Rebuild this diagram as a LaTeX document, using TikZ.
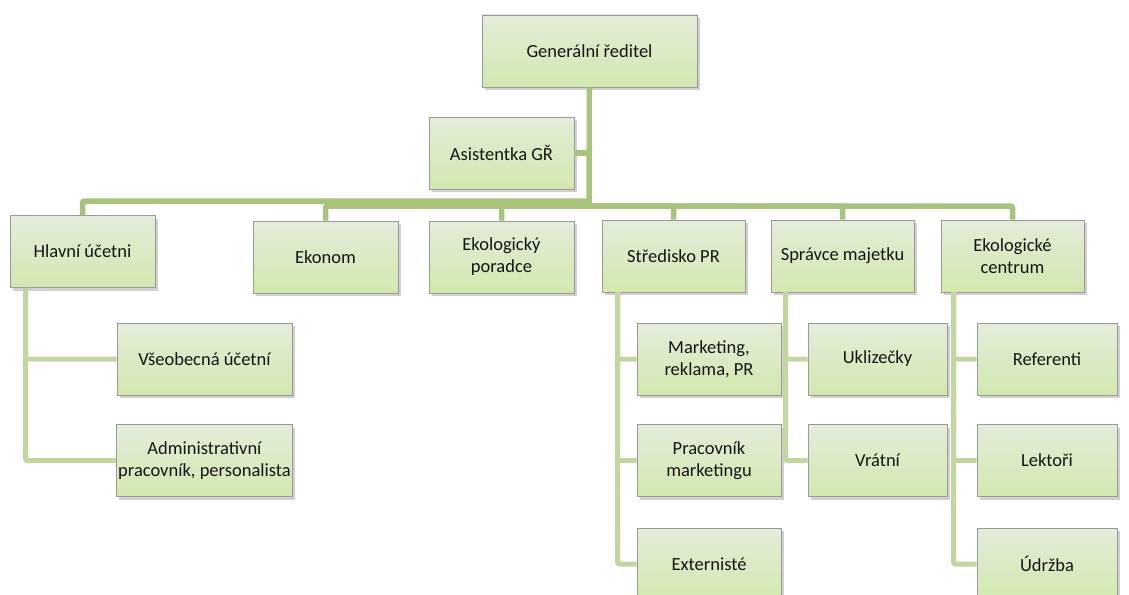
\documentclass[tikz,border=0pt]{standalone}
\usepackage{fontspec}
\setmainfont{Carlito}
\usetikzlibrary{shadows,calc}
\definecolor{busgreen}{HTML}{A8C37C}
\definecolor{subgreen}{HTML}{C3D69F}
\definecolor{boxtop}{HTML}{E4ECDA}
\definecolor{boxbot}{HTML}{D2E8AE}
\definecolor{boxedge}{HTML}{9A9A9A}
\definecolor{txt}{HTML}{151515}
\begin{document}
\begin{tikzpicture}[x=1pt,y=-1pt,
  orgbox/.style={draw=boxedge,line width=0.9pt,top color=boxtop,bottom color=boxbot,
    minimum height=72pt,inner sep=2pt,align=center,text=txt,
    font=\fontsize{18.5}{22}\selectfont,
    drop shadow={shadow xshift=2.5pt,shadow yshift=-3pt,opacity=0.3,fill=black!60}},
  w145/.style={orgbox,minimum width=145pt},
  bus/.style={draw=busgreen,line width=5.5pt,rounded corners=2pt},
  sub/.style={draw=subgreen,line width=5pt,rounded corners=2pt}]
\useasboundingbox (0,0) rectangle (1129,594);
\clip (0,0) rectangle (1129,594);
\fill[white] (0,0) rectangle (1129,594);
% connector junctions
\coordinate (j1) at (589,201);
\coordinate (j2) at (589,206);
\node[orgbox,minimum width=215pt] (gr) at (589.5,51) {Generální ředitel};
\draw[bus] (gr.south) -- (j2);
\node[w145] (as) at (501.5,153) {Asistentka GŘ};
\draw[bus] (as.east) -- (as.east -| j1);
\node[w145] (hu) at (82.5,251.5) {Hlavní účetni};
\node[w145] (ek) at (325.5,257) {Ekonom};
\node[w145] (ep) at (501.5,257) {Ekologický\\poradce};
\node[w145,minimum width=143pt] (sp) at (673.5,256) {Středisko PR};
\node[w145,minimum width=143pt] (sm) at (842.5,256) {Správce majetku};
\node[w145,minimum width=143pt] (ec) at (1012.5,256) {Ekologické\\centrum};
\node[orgbox,minimum width=175pt] (vu) at (204.5,359) {Všeobecná účetní};
\node[orgbox,minimum width=175pt] (ad) at (204.5,460.5) {Administrativní\\pracovník, personalista};
\node[w145,minimum width=144pt] (mk) at (709,359) {Marketing,\\reklama, PR};
\node[w145,minimum width=144pt] (pm) at (709,460.5) {Pracovník\\marketingu};
\node[w145,minimum width=144pt] (ex) at (709,564) {Externisté};
\node[w145,minimum width=139pt] (uk) at (877.5,359) {Uklizečky};
\node[w145,minimum width=139pt] (vr) at (877.5,460.5) {Vrátní};
\node[w145,minimum width=140pt] (re) at (1047,359) {Referenti};
\node[w145,minimum width=140pt] (le) at (1047,460.5) {Lektoři};
\node[w145,minimum width=140pt] (ud) at (1047,564) {Údržba};
% bus connectors
\draw[bus] (hu.north) |- (j1);
\draw[bus] (ek.north) |- (j2);
\draw[bus] (ep.north) |- (j2);
\draw[bus] (sp.north) |- (j2);
\draw[bus] (sm.north) |- (j2);
\draw[bus] (ec.north) |- (j2);
% sub connectors
\draw[sub] ([xshift=16pt]hu.south west) |- (vu.west);
\draw[sub] ([xshift=16pt]hu.south west) |- (ad.west);
\draw[sub] ([xshift=16pt]sp.south west) |- (mk.west);
\draw[sub] ([xshift=16pt]sp.south west) |- (pm.west);
\draw[sub] ([xshift=16pt]sp.south west) |- (ex.west);
\draw[sub] ([xshift=15pt]sm.south west) |- (uk.west);
\draw[sub] ([xshift=15pt]sm.south west) |- (vr.west);
\draw[sub] ([xshift=13pt]ec.south west) |- (re.west);
\draw[sub] ([xshift=13pt]ec.south west) |- (le.west);
\draw[sub] ([xshift=13pt]ec.south west) |- (ud.west);
\end{tikzpicture}
\end{document}
